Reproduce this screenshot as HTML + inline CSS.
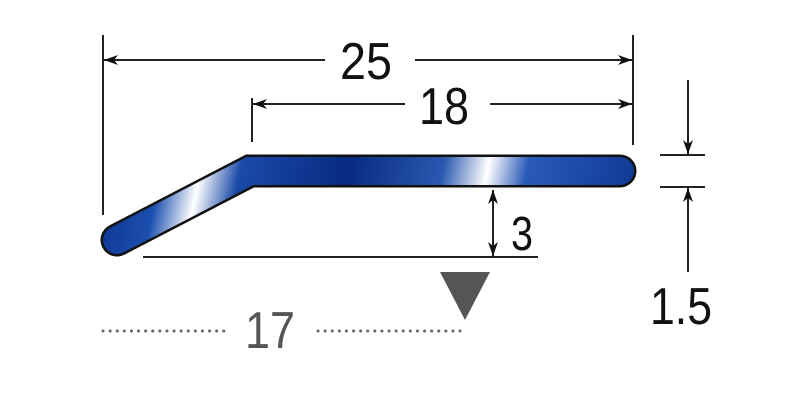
<!DOCTYPE html>
<html><head><style>html,body{margin:0;padding:0;background:#fff}svg{display:block}</style></head><body>
<svg width="800" height="400" viewBox="0 0 800 400" xmlns="http://www.w3.org/2000/svg" font-family="'Liberation Sans',sans-serif">
<defs>
<linearGradient id="g" gradientUnits="userSpaceOnUse" x1="100" y1="140" x2="640" y2="250">
<stop offset="0" stop-color="#0a2e8a"/>
<stop offset="0.12" stop-color="#1c4fb0"/>
<stop offset="0.19" stop-color="#ffffff"/>
<stop offset="0.26" stop-color="#1a4aa8"/>
<stop offset="0.45" stop-color="#082a80"/>
<stop offset="0.62" stop-color="#2a58b0"/>
<stop offset="0.70" stop-color="#ffffff"/>
<stop offset="0.77" stop-color="#2a5ab8"/>
<stop offset="1" stop-color="#0a3590"/>
</linearGradient>
<marker id="a" viewBox="0 0 14 10" refX="14" refY="5" markerWidth="14" markerHeight="10" orient="auto-start-reverse" markerUnits="userSpaceOnUse"><path d="M0,0 L14,5 L0,10 L4,5z" fill="#111"/></marker>
</defs>
<g stroke="#222" stroke-width="2" fill="none">
<line x1="103" y1="35" x2="103" y2="215"/>
<line x1="633" y1="35" x2="633" y2="145"/>
<line x1="252" y1="98" x2="252" y2="142"/>
<line x1="104" y1="60" x2="325" y2="60" marker-start="url(#a)"/>
<line x1="415" y1="60" x2="632" y2="60" marker-end="url(#a)"/>
<line x1="253" y1="104" x2="405" y2="104" marker-start="url(#a)"/>
<line x1="490" y1="104" x2="632" y2="104" marker-end="url(#a)"/>
<line x1="660" y1="155" x2="705" y2="155"/>
<line x1="660" y1="187" x2="705" y2="187"/>
<line x1="688" y1="80" x2="688" y2="154" marker-end="url(#a)"/>
<line x1="688" y1="272" x2="688" y2="188" marker-end="url(#a)"/>
<line x1="493" y1="190" x2="493" y2="256" marker-start="url(#a)" marker-end="url(#a)"/>
<line x1="143" y1="257" x2="538" y2="257"/>
</g>
<path d="M117,240 L250,171 L620,171" fill="none" stroke="#111" stroke-width="33" stroke-linecap="round" stroke-linejoin="miter"/>
<path d="M117,240 L250,171 L620,171" fill="none" stroke="url(#g)" stroke-width="28" stroke-linecap="round" stroke-linejoin="miter"/>
<polygon points="440,272 490,272 465,320" fill="#555"/>
<g stroke="#666" stroke-width="3" stroke-dasharray="0.1 7" stroke-linecap="round">
<line x1="103" y1="331" x2="228" y2="331"/>
<line x1="318" y1="331" x2="465" y2="331"/>
</g>
<g font-size="52" fill="#111" lengthAdjust="spacingAndGlyphs">
<text x="340" y="79" textLength="52" lengthAdjust="spacingAndGlyphs">25</text>
<text x="419" y="124" textLength="50" lengthAdjust="spacingAndGlyphs">18</text>
<text x="511" y="250" textLength="22" lengthAdjust="spacingAndGlyphs" font-size="48">3</text>
<text x="650" y="324" textLength="62" lengthAdjust="spacingAndGlyphs">1.5</text>
<text x="245" y="348" textLength="50" lengthAdjust="spacingAndGlyphs" fill="#555">17</text>
</g>
</svg>
</body></html>
